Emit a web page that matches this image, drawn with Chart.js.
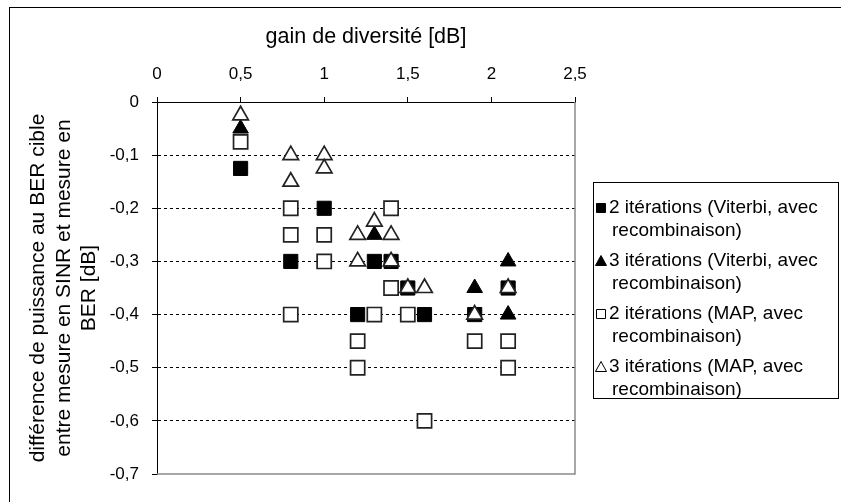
<!DOCTYPE html>
<html>
<head>
<meta charset="utf-8">
<script src="https://cdn.jsdelivr.net/npm/chart.js@4.4.0/dist/chart.umd.min.js"></script>
<style>
  html, body { margin: 0; padding: 0; background: #fff; }
  #wrap { width: 841px; height: 502px; position: relative; }
</style>
</head>
<body>
<div id="wrap"><canvas id="chart" width="841" height="502"></canvas></div>
<script>
// axis ticks
const xTicks = [0, 0.5, 1, 1.5, 2, 2.5];
const xTickLabels = ['0', '0,5', '1', '1,5', '2', '2,5'];
const yTicks = [0, -0.1, -0.2, -0.3, -0.4, -0.5, -0.6, -0.7];
const yTickLabels = ['0', '-0,1', '-0,2', '-0,3', '-0,4', '-0,5', '-0,6', '-0,7'];

const seriesNames = [
    ['2 itérations (Viterbi, avec', 'recombinaison)'],
    ['3 itérations (Viterbi, avec', 'recombinaison)'],
    ['2 itérations (MAP, avec', 'recombinaison)'],
    ['3 itérations (MAP, avec', 'recombinaison)']
];

// 2 iterations Viterbi (filled square)
const vit2X = [0.5, 0.8, 1.0, 1.3, 1.4, 1.2, 1.5, 1.6, 1.9, 2.1];
const vit2Y = [-0.125, -0.3, -0.2, -0.3, -0.3, -0.4, -0.35, -0.4, -0.4, -0.35];
// 3 iterations Viterbi (filled triangle)
const vit3X = [0.5, 1.3, 1.9, 2.1, 2.1];
const vit3Y = [-0.05, -0.25, -0.35, -0.3, -0.4];
// 2 iterations MAP (open square)
const map2X = [0.5, 0.8, 0.8, 0.8, 1.0, 1.0, 1.4, 1.4, 1.3, 1.5, 1.2, 1.2, 1.9, 2.1, 2.1, 1.6];
const map2Y = [-0.075, -0.2, -0.25, -0.4, -0.25, -0.3, -0.2, -0.35, -0.4, -0.4, -0.45, -0.5, -0.45, -0.45, -0.5, -0.6];
// 3 iterations MAP (open triangle)
const map3X = [0.5, 0.8, 0.8, 1.0, 1.0, 1.3, 1.2, 1.4, 1.2, 1.4, 1.5, 1.6, 1.9, 2.1];
const map3Y = [-0.025, -0.1, -0.15, -0.1, -0.125, -0.225, -0.25, -0.25, -0.3, -0.3, -0.35, -0.35, -0.4, -0.35];

const FONT = '"Liberation Sans", Arial, sans-serif';

function toPoints(xs, ys) {
    return xs.map((x, i) => ({ x: x, y: ys[i] }));
}

// outer frame + plot area border (right / bottom in grey)
const framePlugin = {
    id: 'frame',
    beforeDatasetsDraw(chart) {
        const ctx = chart.ctx;
        const a = chart.chartArea;
        ctx.save();
        ctx.strokeStyle = '#8a8a8a';
        ctx.lineWidth = 1.5;
        ctx.beginPath();
        ctx.moveTo(a.right, a.top);
        ctx.lineTo(a.right, a.bottom);
        ctx.lineTo(a.left, a.bottom);
        ctx.stroke();
        ctx.restore();
    },
    afterDraw(chart) {
        const ctx = chart.ctx;
        ctx.save();
        ctx.strokeStyle = '#000';
        ctx.lineWidth = 1;
        ctx.strokeRect(9.5, 7.5, 900, 600);
        ctx.restore();
    }
};

// legend with two-line labels, drawn in a box on the right
const legendPlugin = {
    id: 'boxLegend',
    afterDraw(chart) {
        const ctx = chart.ctx;
        const bx = 593, by = 182, bw = 245, bh = 216;
        ctx.save();
        ctx.fillStyle = '#fff';
        ctx.fillRect(bx, by, bw, bh);
        ctx.strokeStyle = '#000';
        ctx.lineWidth = 1;
        ctx.strokeRect(bx + 0.5, by + 0.5, bw, bh);
        ctx.font = '19px ' + FONT;
        ctx.textBaseline = 'middle';
        ctx.fillStyle = '#000';
        chart.data.datasets.forEach((ds, i) => {
            const y = 208 + i * 53;
            const mx = 601;
            ctx.save();
            ctx.fillStyle = ds.backgroundColor;
            ctx.strokeStyle = '#000';
            ctx.lineWidth = 1;
            ctx.beginPath();
            if (ds.pointStyle === 'rect') {
                ctx.rect(mx - 4.5, y - 4.5, 9, 9);
            } else {
                ctx.moveTo(mx, y - 5.5);
                ctx.lineTo(mx + 5.5, y + 4.5);
                ctx.lineTo(mx - 5.5, y + 4.5);
                ctx.closePath();
            }
            ctx.fill();
            ctx.stroke();
            ctx.restore();
            ctx.fillText(seriesNames[i][0], 609, y);
            ctx.fillText(seriesNames[i][1], 612, y + 23);
        });
        ctx.restore();
    }
};

const ctx = document.getElementById('chart').getContext('2d');
new Chart(ctx, {
    type: 'scatter',
    data: {
        datasets: [{
            label: seriesNames[0].join(' '),
            data: toPoints(vit2X, vit2Y),
            pointStyle: 'rect',
            pointRadius: 10,
            backgroundColor: '#000',
            borderColor: '#000',
            borderWidth: 1,
            order: 4
        }, {
            label: seriesNames[1].join(' '),
            data: toPoints(vit3X, vit3Y),
            pointStyle: 'triangle',
            pointRadius: 9,
            backgroundColor: '#000',
            borderColor: '#000',
            borderWidth: 1,
            order: 3
        }, {
            label: seriesNames[2].join(' '),
            data: toPoints(map2X, map2Y),
            pointStyle: 'rect',
            pointRadius: 10,
            backgroundColor: '#fff',
            borderColor: '#222',
            borderWidth: 1.7,
            order: 2
        }, {
            label: seriesNames[3].join(' '),
            data: toPoints(map3X, map3Y),
            pointStyle: 'triangle',
            pointRadius: 9,
            backgroundColor: '#fff',
            borderColor: '#222',
            borderWidth: 1.7,
            order: 1
        }]
    },
    options: {
        responsive: false,
        animation: false,
        devicePixelRatio: 1,
        layout: { padding: { left: 0, top: 0, right: 266, bottom: 28 } },
        plugins: {
            legend: { display: false },
            tooltip: { enabled: false }
        },
        scales: {
            x: {
                type: 'linear',
                position: 'top',
                min: 0,
                max: 2.5,
                afterBuildTicks: (scale) => { scale.ticks = xTicks.map(v => ({ value: v })); },
                afterFit: (scale) => { scale.height = 102; },
                ticks: {
                    color: '#000',
                    font: { family: FONT, size: 17 },
                    padding: 12,
                    maxRotation: 0,
                    callback: (v) => xTickLabels[xTicks.findIndex(t => Math.abs(t - v) < 1e-6)]
                },
                grid: {
                    drawOnChartArea: false,
                    drawTicks: true,
                    tickLength: 5,
                    color: '#000',
                    tickColor: '#000'
                },
                border: { display: true, color: '#000', width: 1 },
                title: {
                    display: true,
                    text: 'gain de diversité [dB]',
                    color: '#000',
                    font: { family: FONT, size: 21.5, lineHeight: 1.2 },
                    padding: { top: 24, bottom: 0 }
                }
            },
            y: {
                type: 'linear',
                min: -0.7,
                max: 0,
                afterBuildTicks: (scale) => { scale.ticks = yTicks.slice().reverse().map(v => ({ value: v })); },
                afterFit: (scale) => { scale.width = 157; },
                ticks: {
                    color: '#000',
                    font: { family: FONT, size: 17 },
                    padding: 13,
                    callback: (v) => yTickLabels[yTicks.findIndex(t => Math.abs(t - v) < 1e-6)]
                },
                grid: {
                    drawTicks: true,
                    tickLength: 5,
                    lineWidth: 1,
                    color: (c) => (c.tick && (Math.abs(c.tick.value) < 1e-6 || Math.abs(c.tick.value + 0.7) < 1e-6)) ? 'rgba(0,0,0,0)' : '#000',
                    tickColor: '#000'
                },
                border: { display: true, color: '#000', width: 1, dash: [3, 3] },
                title: {
                    display: true,
                    text: ['différence de puissance au BER cible', 'entre mesure en SINR et mesure en', 'BER [dB]'],
                    color: '#000',
                    font: { family: FONT, size: 21, lineHeight: 1.2 },
                    padding: { top: 26, bottom: 0 }
                }
            }
        }
    },
    plugins: [framePlugin, legendPlugin]
});
</script>
</body>
</html>
